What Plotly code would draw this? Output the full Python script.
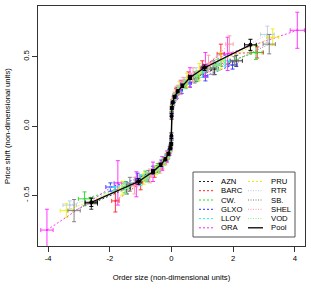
import plotly.graph_objects as go

# ---------------- data ----------------
azn_x = [-2.6, -1.45, -0.8, -0.45, -0.25, -0.13, -0.06, -0.02, -0.005, 0.005, 0.02, 0.06, 0.13, 0.25, 0.45, 0.8, 1.4, 2.1]
azn_y = [-0.56, -0.45, -0.37, -0.31, -0.26, -0.22, -0.18, -0.14, -0.09, 0.09, 0.14, 0.18, 0.22, 0.26, 0.30, 0.35, 0.41, 0.47]
azn_ex = [0.2, 0.12, 0.07, 0.04, 0.02, 0.012, 0.006, 0.003, 0.001, 0.001, 0.003, 0.006, 0.012, 0.02, 0.04, 0.07, 0.12, 0.2]
azn_ey = [0.04, 0.04, 0.03, 0.025, 0.02, 0.02, 0.015, 0.015, 0.01, 0.01, 0.015, 0.015, 0.02, 0.02, 0.025, 0.03, 0.04, 0.04]

barc_x = [-1.82, -1.0, -0.55, -0.3, -0.16, -0.08, -0.03, -0.008, 0.008, 0.03, 0.08, 0.16, 0.3, 0.55, 1.0, 1.6, 2.78]
barc_y = [-0.54, -0.41, -0.33, -0.28, -0.23, -0.19, -0.16, -0.12, 0.12, 0.17, 0.21, 0.25, 0.29, 0.35, 0.42, 0.52, 0.53]
barc_ex = [0.12, 0.07, 0.04, 0.025, 0.015, 0.008, 0.004, 0.002, 0.002, 0.004, 0.008, 0.015, 0.025, 0.04, 0.07, 0.12, 0.2]
barc_ey = [0.08, 0.05, 0.04, 0.03, 0.03, 0.02, 0.02, 0.015, 0.015, 0.02, 0.02, 0.03, 0.03, 0.04, 0.05, 0.07, 0.04]

cw_x = [-2.82, -1.5, -0.85, -0.45, -0.24, -0.12, -0.05, -0.015, 0.015, 0.05, 0.12, 0.24, 0.45, 0.85, 1.5, 2.74]
cw_y = [-0.525, -0.44, -0.36, -0.30, -0.25, -0.21, -0.17, -0.13, 0.13, 0.17, 0.21, 0.26, 0.30, 0.36, 0.44, 0.53]
cw_ex = [0.2, 0.1, 0.06, 0.035, 0.02, 0.01, 0.005, 0.002, 0.002, 0.005, 0.01, 0.02, 0.035, 0.06, 0.1, 0.2]
cw_ey = [0.05, 0.04, 0.035, 0.03, 0.025, 0.02, 0.02, 0.015, 0.015, 0.02, 0.02, 0.025, 0.03, 0.035, 0.04, 0.05]

glxo_x = [-1.98, -1.1, -0.6, -0.33, -0.17, -0.08, -0.03, -0.008, 0.008, 0.03, 0.08, 0.17, 0.33, 0.6, 1.1, 1.98]
glxo_y = [-0.44, -0.38, -0.32, -0.27, -0.23, -0.19, -0.15, -0.11, 0.11, 0.15, 0.19, 0.22, 0.26, 0.31, 0.36, 0.44]
glxo_ex = [0.15, 0.08, 0.045, 0.025, 0.013, 0.007, 0.003, 0.001, 0.001, 0.003, 0.007, 0.013, 0.025, 0.045, 0.08, 0.15]
glxo_ey = [0.03, 0.04, 0.03, 0.025, 0.02, 0.02, 0.015, 0.015, 0.015, 0.015, 0.02, 0.02, 0.025, 0.03, 0.035, 0.03]

lloy_x = [-1.84, -1.0, -0.56, -0.3, -0.15, -0.07, -0.025, -0.007, 0.007, 0.025, 0.07, 0.15, 0.3, 0.56, 1.0, 1.75]
lloy_y = [-0.44, -0.39, -0.32, -0.27, -0.23, -0.19, -0.15, -0.11, 0.11, 0.16, 0.20, 0.24, 0.28, 0.33, 0.39, 0.47]
lloy_ex = [0.14, 0.08, 0.045, 0.025, 0.012, 0.006, 0.003, 0.001, 0.001, 0.003, 0.006, 0.012, 0.025, 0.045, 0.08, 0.14]
lloy_ey = [0.03, 0.04, 0.03, 0.03, 0.02, 0.02, 0.015, 0.015, 0.015, 0.015, 0.02, 0.02, 0.03, 0.03, 0.04, 0.04]

ora_x = [-4.04, -1.74, -1.14, -0.6, -0.3, -0.15, -0.06, -0.02, -0.005, 0.005, 0.02, 0.06, 0.15, 0.3, 0.6, 1.1, 1.82, 4.08]
ora_y = [-0.75, -0.41, -0.42, -0.33, -0.27, -0.22, -0.18, -0.14, -0.10, 0.10, 0.14, 0.18, 0.23, 0.28, 0.35, 0.44, 0.52, 0.69]
ora_ex = [0.2, 0.12, 0.08, 0.045, 0.025, 0.012, 0.005, 0.002, 0.001, 0.001, 0.002, 0.005, 0.012, 0.025, 0.045, 0.08, 0.12, 0.23]
ora_ey = [0.15, 0.16, 0.09, 0.07, 0.05, 0.04, 0.03, 0.025, 0.02, 0.02, 0.025, 0.03, 0.04, 0.05, 0.07, 0.09, 0.12, 0.13]

pru_x = [-3.41, -1.6, -0.9, -0.5, -0.26, -0.13, -0.05, -0.015, 0.015, 0.05, 0.13, 0.26, 0.5, 0.9, 1.6, 3.28]
pru_y = [-0.61, -0.45, -0.38, -0.32, -0.26, -0.22, -0.17, -0.13, 0.13, 0.18, 0.23, 0.28, 0.33, 0.39, 0.47, 0.64]
pru_ex = [0.2, 0.11, 0.06, 0.035, 0.018, 0.009, 0.004, 0.002, 0.002, 0.004, 0.009, 0.018, 0.035, 0.06, 0.11, 0.2]
pru_ey = [0.05, 0.05, 0.04, 0.03, 0.025, 0.02, 0.02, 0.015, 0.015, 0.02, 0.03, 0.04, 0.05, 0.06, 0.06, 0.06]

rtr_x = [-3.30, -1.5, -0.8, -0.42, -0.22, -0.11, -0.04, -0.012, 0.012, 0.04, 0.11, 0.22, 0.42, 0.8, 1.5, 3.11]
rtr_y = [-0.57, -0.45, -0.37, -0.30, -0.25, -0.21, -0.17, -0.12, 0.12, 0.17, 0.22, 0.27, 0.32, 0.38, 0.46, 0.66]
rtr_ex = [0.22, 0.1, 0.055, 0.03, 0.016, 0.008, 0.003, 0.001, 0.001, 0.003, 0.008, 0.016, 0.03, 0.055, 0.1, 0.22]
rtr_ey = [0.03, 0.04, 0.03, 0.025, 0.02, 0.02, 0.015, 0.015, 0.015, 0.015, 0.02, 0.025, 0.03, 0.04, 0.05, 0.06]

sb_x = [-3.16, -1.35, -0.75, -0.4, -0.21, -0.1, -0.04, -0.01, 0.01, 0.04, 0.1, 0.21, 0.4, 0.75, 1.35, 2.04, 3.17]
sb_y = [-0.61, -0.42, -0.36, -0.30, -0.25, -0.20, -0.16, -0.12, 0.12, 0.16, 0.20, 0.25, 0.30, 0.35, 0.42, 0.47, 0.59]
sb_ex = [0.2, 0.1, 0.05, 0.03, 0.015, 0.008, 0.003, 0.001, 0.001, 0.003, 0.008, 0.015, 0.03, 0.05, 0.1, 0.12, 0.2]
sb_ey = [0.08, 0.05, 0.04, 0.03, 0.025, 0.02, 0.015, 0.015, 0.015, 0.015, 0.02, 0.025, 0.03, 0.04, 0.05, 0.03, 0.07]

shel_x = [-1.2, -0.7, -0.38, -0.2, -0.1, -0.04, -0.012, 0.012, 0.04, 0.1, 0.2, 0.38, 0.7, 1.2, 1.88]
shel_y = [-0.43, -0.36, -0.30, -0.25, -0.21, -0.17, -0.13, 0.13, 0.17, 0.22, 0.26, 0.31, 0.37, 0.45, 0.59]
shel_ex = [0.09, 0.05, 0.03, 0.015, 0.008, 0.003, 0.001, 0.001, 0.003, 0.008, 0.015, 0.03, 0.05, 0.09, 0.12]
shel_ey = [0.06, 0.05, 0.04, 0.03, 0.025, 0.02, 0.015, 0.015, 0.02, 0.025, 0.03, 0.04, 0.05, 0.06, 0.06]

vod_x = [-1.5, -0.8, -0.42, -0.22, -0.11, -0.045, -0.013, 0.013, 0.045, 0.11, 0.22, 0.42, 0.8, 1.5]
vod_y = [-0.45, -0.37, -0.31, -0.25, -0.21, -0.17, -0.13, 0.13, 0.17, 0.21, 0.26, 0.30, 0.36, 0.44]
vod_ex = [0.1, 0.055, 0.03, 0.016, 0.008, 0.003, 0.001, 0.001, 0.003, 0.008, 0.016, 0.03, 0.055, 0.1]
vod_ey = [0.04, 0.035, 0.03, 0.025, 0.02, 0.015, 0.015, 0.015, 0.015, 0.02, 0.025, 0.03, 0.035, 0.04]

pool_x = [-2.6, -1.07, -0.6, -0.35, -0.2, -0.1, -0.04, -0.012, -0.003, 0.003, 0.012, 0.04, 0.1, 0.2, 0.35, 0.6, 1.07, 2.56]
pool_y = [-0.55, -0.40, -0.33, -0.28, -0.24, -0.20, -0.16, -0.13, -0.07, 0.07, 0.13, 0.17, 0.21, 0.25, 0.29, 0.35, 0.42, 0.585]
pool_ex = [0.2, 0.08, 0.04, 0.02, 0.01, 0.005, 0.002, 0.001, 0.0005, 0.0005, 0.001, 0.002, 0.005, 0.01, 0.02, 0.04, 0.08, 0.19]
pool_ey = [0.03, 0.02, 0.015, 0.012, 0.01, 0.01, 0.01, 0.01, 0.02, 0.02, 0.01, 0.01, 0.01, 0.01, 0.012, 0.015, 0.02, 0.04]

stock_names = ["AZN", "BARC", "CW.", "GLXO", "LLOY", "ORA", "PRU", "RTR", "SB.", "SHEL", "VOD"]
stock_colors = ["#222222", "#ff2020", "#22dd22", "#3030ff", "#22eeee", "#ff22ff",
                "#eeee10", "#b8cce0", "#777777", "#ff9aa8", "#88ee88"]
stock_dashes = ["2px,2px"] * 7 + ["1px,1.5px"] * 4

series = [
    (azn_x, azn_y, azn_ex, azn_ey),
    (barc_x, barc_y, barc_ex, barc_ey),
    (cw_x, cw_y, cw_ex, cw_ey),
    (glxo_x, glxo_y, glxo_ex, glxo_ey),
    (lloy_x, lloy_y, lloy_ex, lloy_ey),
    (ora_x, ora_y, ora_ex, ora_ey),
    (pru_x, pru_y, pru_ex, pru_ey),
    (rtr_x, rtr_y, rtr_ex, rtr_ey),
    (sb_x, sb_y, sb_ex, sb_ey),
    (shel_x, shel_y, shel_ex, shel_ey),
    (vod_x, vod_y, vod_ex, vod_ey),
]

FONT = "Liberation Sans, Arial, Helvetica, sans-serif"
FS = 7.7

fig = go.Figure()
for name, col, dash, (xs, ys, ex, ey) in zip(stock_names, stock_colors, stock_dashes, series):
    fig.add_trace(go.Scatter(
        x=xs, y=ys, name=name, mode="lines+markers",
        line=dict(color=col, width=0.9, dash=dash),
        marker=dict(color=col, size=2),
        error_x=dict(type="data", array=ex, color=col, thickness=0.9, width=2),
        error_y=dict(type="data", array=ey, color=col, thickness=0.9, width=2),
        showlegend=False,
    ))

fig.add_trace(go.Scatter(
    x=pool_x, y=pool_y, name="Pool", mode="lines+markers",
    line=dict(color="black", width=1.3),
    marker=dict(color="black", size=4),
    error_x=dict(type="data", array=pool_ex, color="black", thickness=1, width=2),
    error_y=dict(type="data", array=pool_ey, color="black", thickness=1, width=2),
    showlegend=False,
))

# ---------------- manual legend (pixel -> paper helpers) ----------------
L, R, T, B = 38, 305, 6, 246
def px(v):
    return (v - L) / (R - L)
def py(v):
    return (B - v) / (B - T)

shapes = [dict(type="rect", xref="paper", yref="paper",
               x0=px(193), x1=px(295), y0=py(237), y1=py(172),
               line=dict(color="#555555", width=1), fillcolor="white", layer="above")]
annotations = []
legend_names = stock_names + ["Pool"]
legend_colors = stock_colors + ["black"]
legend_dashes = stock_dashes + ["solid"]
rows = [181.5, 190.7, 200.0, 209.3, 218.6, 227.8]
for i, (nm, col, dsh) in enumerate(zip(legend_names, legend_colors, legend_dashes)):
    c, r = divmod(i, 6)
    x0, x1, xt = (199, 213, 219) if c == 0 else (248, 263, 269)
    yy = rows[r]
    shapes.append(dict(type="line", xref="paper", yref="paper",
                       x0=px(x0), x1=px(x1), y0=py(yy), y1=py(yy),
                       line=dict(color=col, width=1.3 if nm == "Pool" else 1, dash=dsh),
                       layer="above"))
    annotations.append(dict(xref="paper", yref="paper", x=px(xt), y=py(yy),
                            text=nm, showarrow=False, xanchor="left", yanchor="middle",
                            font=dict(family=FONT, size=FS, color="black")))

axis_common = dict(showgrid=False, zeroline=False, showline=True, linecolor="#333333",
                   linewidth=1, mirror=True, ticks="outside", ticklen=5, tickwidth=1,
                   automargin=False,
                   tickcolor="#333333", tickfont=dict(family=FONT, size=FS, color="black"))

fig.update_layout(
    width=311, height=291,
    margin=dict(l=L, r=311 - R, t=T, b=291 - B),
    paper_bgcolor="white", plot_bgcolor="white",
    font=dict(family=FONT, size=FS, color="black"),
    xaxis=dict(range=[-4.33, 4.33], tickvals=[-4, -2, 0, 2, 4], ticktext=["-4", "-2", "0", "2", "4"],
               title=dict(text="Order size (non-dimensional units)",
                          font=dict(family=FONT, size=FS, color="black"), standoff=12),
               **axis_common),
    yaxis=dict(range=[-0.865, 0.865], tickvals=[-0.5, 0.0, 0.5], ticktext=["- 0.5", "0.0", "0.5"],
               tickangle=-90,
               title=dict(text="Price shift (non-dimensional units)",
                          font=dict(family=FONT, size=FS, color="black"), standoff=10),
               **axis_common),
    shapes=shapes, annotations=annotations,
)

fig.write_html("out.html", config={"displayModeBar": False},
               post_script="document.body.style.margin='0';document.body.style.padding='0';")
